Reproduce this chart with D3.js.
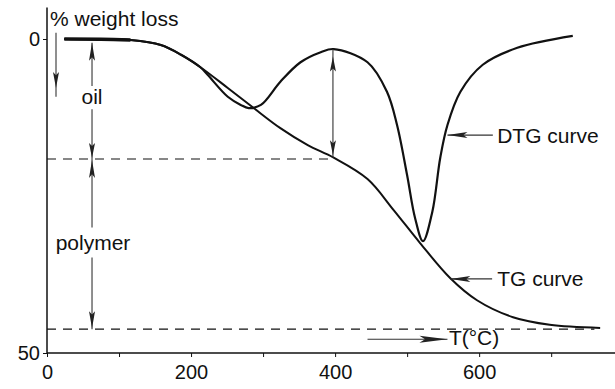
<!DOCTYPE html>
<html>
<head>
<meta charset="utf-8">
<script src="https://cdn.jsdelivr.net/npm/d3@7"></script>
<style>
  body { margin: 0; background: #fff; }
  svg { display: block; font-family: "Liberation Sans", Arial, sans-serif; }
</style>
</head>
<body>
<div id="chart"></div>
<script>
// TG curve: temperature (°C) vs % weight loss
const tgTemp = [24, 75, 116, 158, 186, 213, 251, 287, 324, 362, 398, 445, 481, 518, 560, 597, 647, 698, 768];
const tgLoss = [0, 0.03, 0.16, 0.96, 2.5, 4.5, 7.8, 11.0, 14.2, 16.9, 18.9, 22.3, 27.2, 32.5, 38.1, 41.6, 44.3, 45.5, 46.0];

// DTG curve drawn in the same frame
const dtgTemp = [24, 75, 116, 158, 186, 213, 223, 251, 269, 280, 297, 324, 352, 380, 398, 445, 472, 486, 500, 511, 522, 535, 546, 556, 574, 605, 653, 730];
const dtgLoss = [0, 0.03, 0.16, 0.96, 2.5, 4.5, 5.7, 9.2, 10.5, 11.0, 10.5, 6.8, 3.7, 2.1, 1.6, 3.7, 8.4, 13.7, 21.7, 28.5, 32.2, 27.5, 18.9, 13.7, 8.4, 4.1, 1.4, -0.5];

const xTicks = [0, 100, 200, 300, 400, 500, 600, 700];
const xTickLabels = [0, 200, 400, 600];
const yTicks = [0, 50];

const oilLevel = 19.1;
const polymerLevel = 46.2;

const width = 615, height = 389;
const svg = d3.select("#chart").append("svg")
    .attr("width", width)
    .attr("height", height);

const x = d3.scaleLinear().domain([0, 790]).range([47, 616]);
const y = d3.scaleLinear().domain([0, 50]).range([39, 353]);

const ink = "#111";

// axes
svg.append("g")
    .attr("transform", "translate(0," + y(50) + ")")
    .call(d3.axisBottom(x)
        .tickValues(xTicks)
        .tickSize(4)
        .tickSizeOuter(0)
        .tickPadding(8)
        .tickFormat(d => xTickLabels.includes(d) ? d : ""))
    .call(g => g.select(".domain").remove())
    .call(g => g.selectAll("text").attr("font-size", 20).attr("fill", ink).attr("font-family", null))
    .call(g => g.selectAll("line").attr("stroke", ink));

svg.append("g")
    .attr("transform", "translate(" + x(0) + ",0)")
    .call(d3.axisLeft(y)
        .tickValues(yTicks)
        .tickSize(4)
        .tickPadding(3))
    .call(g => g.select(".domain").remove())
    .call(g => g.selectAll("text").attr("font-size", 20).attr("fill", ink).attr("font-family", null))
    .call(g => g.selectAll("line").attr("stroke", ink));

svg.append("line")
    .attr("x1", x(0)).attr("x2", x(0))
    .attr("y1", y(-5)).attr("y2", y(50))
    .attr("stroke", ink).attr("stroke-width", 1.5);
svg.append("line")
    .attr("x1", x(0)).attr("x2", x(790))
    .attr("y1", y(50)).attr("y2", y(50))
    .attr("stroke", ink).attr("stroke-width", 1.5);

// dashed level lines
svg.append("line")
    .attr("x1", x(0)).attr("x2", x(398))
    .attr("y1", y(oilLevel)).attr("y2", y(oilLevel))
    .attr("stroke", ink).attr("stroke-width", 1.1)
    .attr("stroke-dasharray", "9,7");
svg.append("line")
    .attr("x1", x(0)).attr("x2", x(760))
    .attr("y1", y(polymerLevel)).attr("y2", y(polymerLevel))
    .attr("stroke", ink).attr("stroke-width", 1.1)
    .attr("stroke-dasharray", "9,7");

// curves
const tgData = tgTemp.map((t, i) => ({t: t, w: tgLoss[i]}));
const dtgData = dtgTemp.map((t, i) => ({t: t, w: dtgLoss[i]}));

const line = d3.line()
    .x(d => x(d.t))
    .y(d => y(d.w))
    .curve(d3.curveCatmullRom.alpha(0.5));

svg.append("path")
    .datum(dtgData)
    .attr("fill", "none")
    .attr("stroke", ink)
    .attr("stroke-width", 2.2)
    .attr("d", line);

svg.append("path")
    .datum(tgData)
    .attr("fill", "none")
    .attr("stroke", ink)
    .attr("stroke-width", 2)
    .attr("d", line);

// heavier start of the trace
svg.append("path")
    .datum(tgData.filter(d => d.t <= 120))
    .attr("fill", "none")
    .attr("stroke", ink)
    .attr("stroke-width", 3.6)
    .attr("d", line);

// arrows
function seg(x1, y1, x2, y2) {
    svg.append("line")
        .attr("x1", x1).attr("y1", y1)
        .attr("x2", x2).attr("y2", y2)
        .attr("stroke", "#333").attr("stroke-width", 1.1);
}
function head(tx, ty, angle, len, hw) {
    // angle: direction the arrow points, degrees
    svg.append("path")
        .attr("d", "M0,0L" + (-len) + "," + (-hw) + "L" + (-len * 0.8) + ",0L" + (-len) + "," + hw + "Z")
        .attr("transform", "translate(" + tx + "," + ty + ") rotate(" + angle + ")")
        .attr("fill", "#222");
}

// weight-loss direction arrow
const wx = x(12.5);
seg(wx, y(-1), wx, y(9.2));
head(wx, y(7.8), 90, 16, 3);

// oil span
const ox = x(62.5);
seg(ox, y(0.6), ox, y(7.5));
seg(ox, y(11.2), ox, y(oilLevel));
head(ox, y(0.6), -90, 18, 3);
head(ox, y(oilLevel) - 1, 90, 15, 3);

// polymer span
seg(ox, y(oilLevel), ox, y(30));
seg(ox, y(34.8), ox, y(polymerLevel));
head(ox, y(oilLevel) + 1, -90, 18, 3);
head(ox, y(polymerLevel) - 1, 90, 17, 3);

// span between DTG peak and TG at 400°C
const mx = x(397);
seg(mx, y(1.6), mx, y(18.9));
head(mx, y(2.8), -90, 15, 3);
head(mx, y(18.5), 90, 15, 3);

// pointer arrows to curves
seg(x(556), y(15.3), x(619), y(15.3));
head(x(556), y(15.3), 180, 20, 3);
seg(x(560), y(38.2), x(618), y(38.2));
head(x(560), y(38.2), 180, 20, 3);
seg(x(445), y(47.8), x(556), y(47.8));
head(x(556), y(47.8), 0, 28, 3.5);

// labels
function label(tx, ty, txt, anchor) {
    svg.append("text")
        .attr("x", tx).attr("y", ty)
        .attr("dominant-baseline", "central")
        .attr("text-anchor", anchor)
        .attr("font-size", 21)
        .attr("fill", ink)
        .text(txt);
}
svg.append("text")
    .attr("x", 50).attr("y", 26)
    .attr("font-size", 21)
    .attr("fill", ink)
    .text("% weight loss");
label(ox, y(9.2), "oil", "middle");
label(ox + 1, y(32.4), "polymer", "middle");
label(x(625), y(15.3), "DTG curve", "start");
label(x(625), y(38.2), "TG curve", "start");
label(x(558), y(47.6), "T(°C)", "start");
</script>
</body>
</html>
